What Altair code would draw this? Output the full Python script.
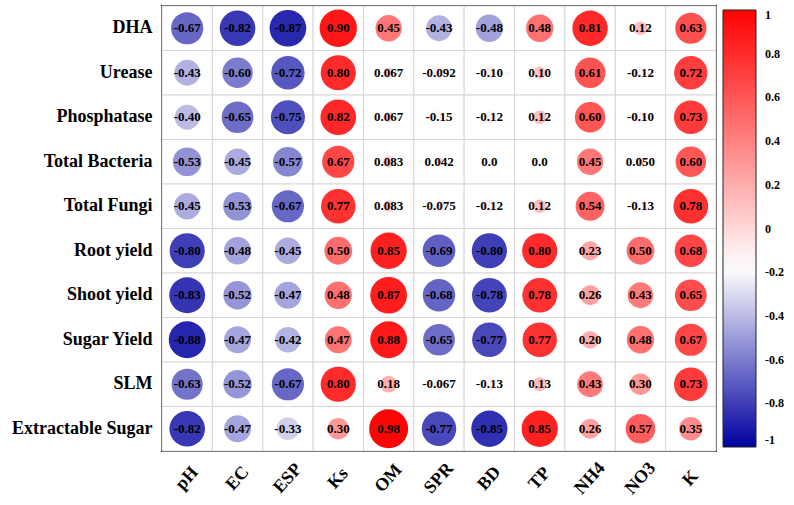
import altair as alt
import pandas as pd

# Soil properties (columns) and plant / microbial traits (rows)
soil_vars = ["pH", "EC", "ESP", "Ks", "OM", "SPR", "BD", "TP", "NH4", "NO3", "K"]
traits = ["DHA", "Urease", "Phosphatase", "Total Bacteria", "Total Fungi",
          "Root yield", "Shoot yield", "Sugar Yield", "SLM", "Extractable Sugar"]

# Pearson correlation coefficients, one list per trait
r_dha = [-0.67, -0.82, -0.87, 0.90, 0.45, -0.43, -0.48, 0.48, 0.81, 0.12, 0.63]
r_urease = [-0.43, -0.60, -0.72, 0.80, 0.067, -0.092, -0.10, 0.10, 0.61, -0.12, 0.72]
r_phosphatase = [-0.40, -0.65, -0.75, 0.82, 0.067, -0.15, -0.12, 0.12, 0.60, -0.10, 0.73]
r_bacteria = [-0.53, -0.45, -0.57, 0.67, 0.083, 0.042, 0.0, 0.0, 0.45, 0.050, 0.60]
r_fungi = [-0.45, -0.53, -0.67, 0.77, 0.083, -0.075, -0.12, 0.12, 0.54, -0.13, 0.78]
r_root = [-0.80, -0.48, -0.45, 0.50, 0.85, -0.69, -0.80, 0.80, 0.23, 0.50, 0.68]
r_shoot = [-0.83, -0.52, -0.47, 0.48, 0.87, -0.68, -0.78, 0.78, 0.26, 0.43, 0.65]
r_sugar_yield = [-0.88, -0.47, -0.42, 0.47, 0.88, -0.65, -0.77, 0.77, 0.20, 0.48, 0.67]
r_slm = [-0.63, -0.52, -0.67, 0.80, 0.18, -0.067, -0.13, 0.13, 0.43, 0.30, 0.73]
r_extractable = [-0.82, -0.47, -0.33, 0.30, 0.98, -0.77, -0.85, 0.85, 0.26, 0.57, 0.35]

matrix = [r_dha, r_urease, r_phosphatase, r_bacteria, r_fungi,
          r_root, r_shoot, r_sugar_yield, r_slm, r_extractable]

# Colour bar tick values
bar_ticks = [-1, -0.8, -0.6, -0.4, -0.2, 0, 0.2, 0.4, 0.6, 0.8, 1]

records = []
for trait, row in zip(traits, matrix):
    for var, r in zip(soil_vars, row):
        records.append({"trait": trait, "var": var, "r": r, "abs_r": abs(r)})
df = pd.DataFrame(records)

SERIF = "Liberation Serif"

x_enc = alt.X("var:N", sort=soil_vars, title=None,
              scale=alt.Scale(paddingInner=0, paddingOuter=0),
              axis=alt.Axis(labelAngle=-48, labelAlign="center", labelBaseline="middle",
                            labelPadding=27, ticks=False, domain=False, grid=False,
                            labelFont=SERIF, labelFontWeight="bold", labelFontSize=18,
                            labelColor="black"))
y_enc = alt.Y("trait:N", sort=traits, title=None,
              scale=alt.Scale(paddingInner=0, paddingOuter=0),
              axis=alt.Axis(labelPadding=10, ticks=False, domain=False, grid=False,
                            labelFont=SERIF, labelFontWeight="bold", labelFontSize=18,
                            labelColor="black"))

base = alt.Chart(df).encode(x=x_enc, y=y_enc)

cells = base.mark_rect(fill="white", stroke="#d6d6d6", strokeWidth=1)

color_scale = alt.Scale(domain=[-1, -0.18, 1],
                        range=["#00009f", "#ffffff", "#ff0000"],
                        interpolate="rgb")

circles = base.mark_circle(opacity=1).encode(
    size=alt.Size("abs_r:Q", scale=alt.Scale(domain=[0, 1], range=[0, 1548]), legend=None),
    color=alt.Color("r:Q", scale=color_scale,
                    legend=alt.Legend(
                        orient="none", legendX=561, legendY=4,
                        direction="vertical", title=None,
                        gradientLength=437, gradientThickness=33,
                        gradientStrokeColor="#222", gradientStrokeWidth=1,
                        values=bar_ticks,
                        format=".1~f",
                        labelExpr="replace(datum.label, '\u2212', '-')",
                        labelOffset=9, padding=0,
                        labelFont=SERIF, labelFontWeight="bold", labelFontSize=12,
                        labelColor="black")),
)

labels = base.transform_calculate(
    label="datum.r == 0 ? '0.0' : replace(format(datum.r, '.2r'), '\u2212', '-')"
).mark_text(font=SERIF, fontWeight="bold", fontSize=13, color="black").encode(
    text="label:N"
)

chart = alt.layer(cells, circles, labels).properties(
    width=554, height=445,
    autosize=alt.AutoSizeParams(type="none"),
    padding={"left": 162, "top": 6, "right": 78, "bottom": 54},
    background="white",
).configure_view(
    stroke="#222", strokeWidth=2
).configure_legend(
    labelFont=SERIF, labelFontWeight="bold", labelFontSize=12, labelColor="black"
)

chart.save("out.html", embed_options={"renderer": "svg", "actions": False})
